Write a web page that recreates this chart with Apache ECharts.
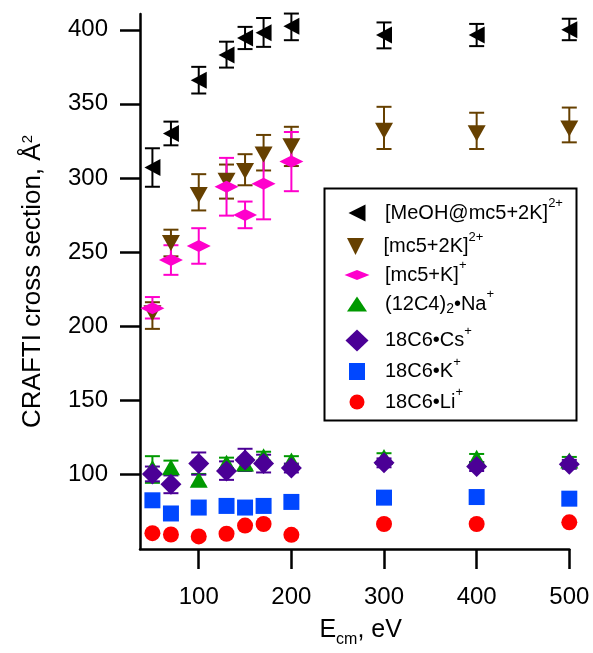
<!DOCTYPE html>
<html><head><meta charset="utf-8">
<script src="https://cdn.jsdelivr.net/npm/echarts@6/dist/echarts.min.js"></script>
<style>html,body{margin:0;padding:0;background:#fff}#c{width:593px;height:653px}</style>
</head><body><div id="c"></div><script>
// ---- data ----
const energies = [50, 70, 100, 130, 150, 170, 200, 300, 400, 500];
const energiesMc5K = [50, 70, 100, 130, 150, 170, 200];

const meohVal  = [307, 330, 366, 383, 394.5, 398, 402.5, 396.5, 396.5, 400];
const meohLow  = [294, 322, 357, 374.5, 387, 388.5, 393, 387.5, 389, 393];
const meohHigh = [320, 338, 375, 392, 402, 408, 411, 405, 404, 407.5];

const mc52kVal  = [208.5, 256, 288.5, 298, 304.7, 315.8, 321.3, 331.8, 330.1, 333.4];
const mc52kLow  = [198, 247, 278, 286, 295, 305, 308, 319.5, 319.5, 324];
const mc52kHigh = [216, 265, 302.5, 309, 316, 329, 334.5, 348, 344, 347.5];

const mc5kVal  = [212, 244.5, 254, 294, 275, 296, 311];
const mc5kLow  = [205, 234.5, 242, 274.5, 266, 272, 291];
const mc5kHigh = [219.5, 254.5, 266, 313.5, 284, 320, 331];

const c4naVal  = [104, 104.5, 96, 107.5, 107, 112, 109, 111.5, 111, 109];
const c4naLow  = [94, 100, 92, 104, 103, 109, 106, 109, 108, 106.5];
const c4naHigh = [112, 109, 100, 111, 111, 115, 112, 114, 113.5, 111.5];

const csVal  = [100, 93, 107, 102, 109.5, 107, 104, 107.5, 105, 106.5];
const csLow  = [95, 87, 99.5, 96, 102, 101, 101, 104.5, 102, 103.5];
const csHigh = [105, 99, 114.5, 108.5, 117, 113, 107, 110.5, 108, 109.5];

const kVal  = [82.2, 73.3, 77.3, 78.4, 77.3, 78.4, 81.1, 84, 84.4, 83.3];
const liVal = [60, 59.1, 57.8, 59.6, 65.1, 66.2, 58.9, 66.2, 66.2, 67.3];

const xTicks = [100, 200, 300, 400, 500];
const yTicks = [100, 150, 200, 250, 300, 350, 400];

const seriesNames = ['MeOH@mc5+2K', 'mc5+2K', 'mc5+K', '(12C4)2Na', '18C6Cs', '18C6K', '18C6Li'];
const legendLabels = [
  '{m|[MeOH@mc5+2K]}{u|2+}',
  '{m|[mc5+2K]}{u|2+}',
  '{m|[mc5+K]}{u|+}',
  '{m|(12C4)}{d|2}{m|•Na}{u|+}',
  '{m|18C6•Cs}{u|+}',
  '{m|18C6•K}{u|+}',
  '{m|18C6•Li}{u|+}'
];
// ---- styling ----
const colors = ['#000000', '#664000', '#FF00CC', '#009900', '#4B0096', '#0047FF', '#FF0000'];
const FONT = '"Liberation Sans", Arial, Helvetica, sans-serif';

function zip2(xs, ys) { return xs.map((x, i) => [x, ys[i]]); }
function zip3(xs, lo, hi) { return xs.map((x, i) => [x, lo[i], hi[i]]); }

function errRender(color, lw) {
  return function (params, api) {
    const x = api.value(0), lo = api.value(1), hi = api.value(2);
    const pLo = api.coord([x, lo]), pHi = api.coord([x, hi]);
    const hw = 7.5;
    const style = { stroke: color, lineWidth: lw, fill: null };
    return { type: 'group', children: [
      { type: 'line', shape: { x1: pLo[0], y1: pLo[1], x2: pHi[0], y2: pHi[1] }, style: style },
      { type: 'line', shape: { x1: pLo[0] - hw, y1: pLo[1], x2: pLo[0] + hw, y2: pLo[1] }, style: style },
      { type: 'line', shape: { x1: pHi[0] - hw, y1: pHi[1], x2: pHi[0] + hw, y2: pHi[1] }, style: style }
    ]};
  };
}
function errSeries(name, data, color) {
  return { type: 'custom', name: name + ' err', data: data, encode: { x: 0, y: [1, 2] },
    renderItem: errRender(color, 2), silent: true };
}
function scatter(name, data, color, symbol, size, rot) {
  return { type: 'scatter', name: name, data: data, symbol: symbol, symbolSize: size,
    symbolRotate: rot || 0, clip: false, itemStyle: { color: color, opacity: 1 } };
}

const series = [
  errSeries(seriesNames[0], zip3(energies, meohLow, meohHigh), colors[0]),
  scatter(seriesNames[0], zip2(energies, meohVal), colors[0], 'triangle', [17, 16], 90),
  errSeries(seriesNames[1], zip3(energies, mc52kLow, mc52kHigh), colors[1]),
  scatter(seriesNames[1], zip2(energies, mc52kVal), colors[1], 'triangle', [18, 16], 180),
  errSeries(seriesNames[2], zip3(energiesMc5K, mc5kLow, mc5kHigh), colors[2]),
  scatter(seriesNames[2], zip2(energiesMc5K, mc5kVal), colors[2], 'diamond', [24, 12], 0),
  errSeries(seriesNames[3], zip3(energies, c4naLow, c4naHigh), colors[3]),
  scatter(seriesNames[3], zip2(energies, c4naVal), colors[3], 'triangle', [18, 16], 0),
  errSeries(seriesNames[4], zip3(energies, csLow, csHigh), colors[4]),
  scatter(seriesNames[4], zip2(energies, csVal), colors[4], 'diamond', [21, 21], 0),
  scatter(seriesNames[5], zip2(energies, kVal), colors[5], 'rect', [16, 16], 0),
  scatter(seriesNames[6], zip2(energies, liVal), colors[6], 'circle', 16, 0)
];

// legend: one component per row so each icon keeps its own shape/size
const legendIcon = [[17, 18], [20, 17], [25, 10], [20, 15], [23, 22], [16, 17], [15, 15]];
const legendIconShape = [
  'path://M0,5L10,0L10,10Z',   // left-pointing triangle
  'path://M0,0L10,0L5,10Z',    // down-pointing triangle
  'diamond', 'triangle', 'diamond', 'rect', 'circle'
];
const rowCenters = [213, 246.5, 275, 304, 340.5, 371.5, 402];
const legendRich = {
  m: { fontSize: 20, fontFamily: FONT, color: '#000', lineHeight: 32, verticalAlign: 'middle' },
  u: { fontSize: 13, fontFamily: FONT, color: '#000', lineHeight: 13, verticalAlign: 'top' },
  d: { fontSize: 14, fontFamily: FONT, color: '#000', lineHeight: 13, verticalAlign: 'bottom', padding: [0, 0, 4, 0] }
};
const legends = seriesNames.map((nm, i) => {
  const w = legendIcon[i][0], h = legendIcon[i][1];
  return {
    left: 357 - w / 2, top: rowCenters[i] - 16, padding: 0, orient: 'horizontal',
    itemWidth: w, itemHeight: h, selectedMode: false,
    data: [{ name: nm, icon: legendIconShape[i] }],
    formatter: function () { return legendLabels[i]; },
    textStyle: { padding: [0, 0, 0, 23 - w / 2], rich: legendRich }
  };
});

const chart = echarts.init(document.getElementById('c'), null, { renderer: 'canvas' });
chart.setOption({
  animation: false,
  backgroundColor: '#ffffff',
  grid: { left: 140, top: 14, right: 23.7, bottom: 96, containLabel: false },
  xAxis: {
    type: 'value', min: 36.6, max: 500,
    name: '{e|E}{s|cm}{e|, eV}', nameLocation: 'middle', nameGap: 69,
    nameTextStyle: { padding: [0, 0, 0, 12], rich: {
      e: { fontSize: 25, fontFamily: FONT, color: '#000', lineHeight: 26, verticalAlign: 'top' },
      s: { fontSize: 16, fontFamily: FONT, color: '#000', lineHeight: 16, verticalAlign: 'top', padding: [14, 0, 0, 0] }
    }},
    axisLine: { onZero: false, lineStyle: { color: '#000', width: 2.5 } },
    axisTick: { show: true, inside: false, length: 20, customValues: xTicks, lineStyle: { color: '#000', width: 2.5 } },
    axisLabel: { customValues: xTicks, margin: 36, fontSize: 24, lineHeight: 24, fontFamily: FONT, color: '#000' },
    splitLine: { show: false }
  },
  yAxis: {
    type: 'value', min: 49.3, max: 410.7,
    name: '{m|CRAFTI cross section, Å}{u|2}', nameLocation: 'middle', nameGap: 93,
    nameTextStyle: { rich: {
      m: { fontSize: 26, fontFamily: FONT, color: '#000', lineHeight: 27, verticalAlign: 'top' },
      u: { fontSize: 15, fontFamily: FONT, color: '#000', lineHeight: 15, verticalAlign: 'top' }
    }},
    axisLine: { show: true, onZero: false, lineStyle: { color: '#000', width: 2.5 } },
    axisTick: { show: true, inside: false, length: 20, customValues: yTicks, lineStyle: { color: '#000', width: 2.5 } },
    axisLabel: { customValues: yTicks, margin: 32, fontSize: 24, fontFamily: FONT, color: '#000' },
    splitLine: { show: false }
  },
  legend: legends,
  graphic: [{ type: 'rect', left: 322, top: 186, z: 100, silent: true,
    shape: { width: 252, height: 232 }, style: { fill: null, stroke: '#000', lineWidth: 2 } }],
  series: series
});
</script></body></html>
